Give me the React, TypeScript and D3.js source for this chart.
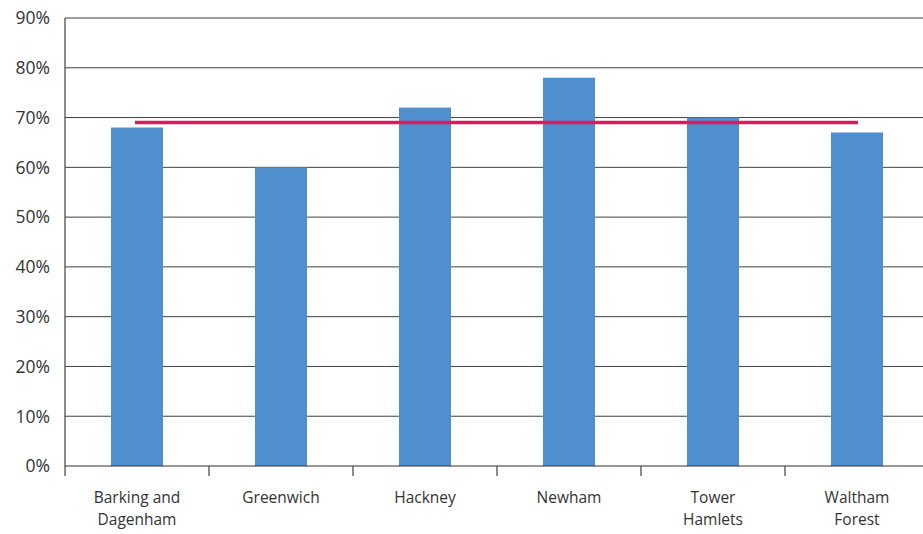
import React from "react";
import * as d3 from "d3";

const categories: string[][] = [
  ["Barking and", "Dagenham"],
  ["Greenwich"],
  ["Hackney"],
  ["Newham"],
  ["Tower", "Hamlets"],
  ["Waltham", "Forest"],
];
const values = [0.68, 0.6, 0.72, 0.78, 0.7, 0.67];
const average = 0.69;
const yTicks = [0, 0.1, 0.2, 0.3, 0.4, 0.5, 0.6, 0.7, 0.8, 0.9];

export default function App() {
  const W = 923;
  const H = 534;
  const left = 65;
  const bandW = 144;
  const x = d3
    .scaleBand<number>()
    .domain(values.map((_, i) => i))
    .range([left, left + bandW * values.length])
    .paddingInner(0)
    .paddingOuter(0);
  const y = d3.scaleLinear().domain([0, 0.9]).range([466, 18]);
  const barW = 52;
  const font = "'Open Sans', 'Noto Sans', sans-serif";
  const lineGen = d3
    .line<number>()
    .x((_, i) => (x(i) as number) + bandW / 2)
    .y(() => y(average));
  const avgPts = [average, average];
  const avgPath = d3
    .line<number>()
    .x((_, i) => (i === 0 ? (x(0) as number) + bandW / 2 - 2 : (x(values.length - 1) as number) + bandW / 2 + 1))
    .y((d) => y(d))(avgPts);
  void lineGen;
  return (
    <svg
      width={W}
      height={H}
      style={{ position: "absolute", left: 0, top: 0, background: "#fff" }}
    >
      {yTicks.map((t) => (
        <g key={t}>
          {t > 0 && (
            <line x1={left} x2={W} y1={y(t)} y2={y(t)} stroke="#404040" strokeWidth={1} />
          )}
          <text
            x={50}
            y={y(t)}
            dy="0.36em"
            textAnchor="end"
            fontFamily={font}
            fontSize={17.5}
            fill="#333"
          >
            {Math.round(t * 100)}%
          </text>
        </g>
      ))}
      {values.map((v, i) => (
        <rect
          key={i}
          x={(x(i) as number) + bandW / 2 - barW / 2}
          y={y(v)}
          width={barW}
          height={y(0) - y(v)}
          fill="#4f8fcd"
        />
      ))}
      <path d={avgPath || ""} stroke="#e0195a" strokeWidth={3.5} fill="none" />
      <line x1={left} x2={left} y1={y(0.9)} y2={y(0) + 10} stroke="#404040" strokeWidth={1.2} />
      <line x1={left} x2={W} y1={y(0)} y2={y(0)} stroke="#303030" strokeWidth={1.2} />
      {values.map((_, i) =>
        i > 0 ? (
          <line
            key={i}
            x1={x(i) as number}
            x2={x(i) as number}
            y1={y(0)}
            y2={y(0) + 10}
            stroke="#404040"
            strokeWidth={1.2}
          />
        ) : null
      )}
      {categories.map((lines, i) => (
        <text
          key={i}
          x={(x(i) as number) + bandW / 2}
          y={503}
          textAnchor="middle"
          fontFamily={font}
          fontSize={15.5}
          fill="#333"
        >
          {lines.map((l, j) => (
            <tspan key={j} x={(x(i) as number) + bandW / 2} dy={j === 0 ? 0 : 22}>
              {l}
            </tspan>
          ))}
        </text>
      ))}
    </svg>
  );
}
